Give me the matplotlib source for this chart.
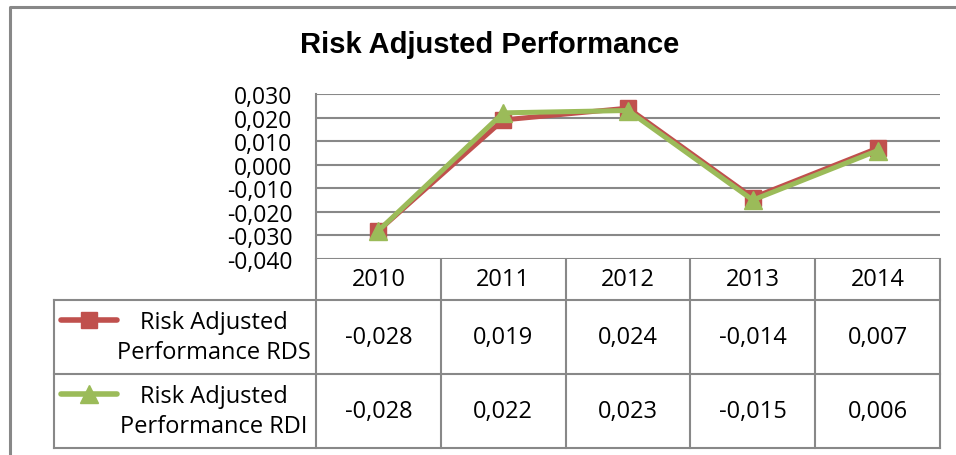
import numpy as np
import matplotlib.pyplot as plt
from matplotlib.ticker import FuncFormatter

years = ['2010', '2011', '2012', '2013', '2014']
rds = [-0.028, 0.019, 0.024, -0.014, 0.007]
rdi = [-0.028, 0.022, 0.023, -0.015, 0.006]
series_names = ['Risk Adjusted\nPerformance RDS', 'Risk Adjusted\nPerformance RDI']
title = 'Risk Adjusted Performance'

RED = '#C0504D'
GREEN = '#9BBB59'
GRID = '#888888'
FONT = 'Open Sans'

def comma(v):
    return f'{v:.3f}'.replace('.', ',')

W, H = 956, 456
fig = plt.figure(figsize=(W / 100, H / 100), dpi=100)

# plot area in pixels
pl, pr, pt, pb = 316, 940, 95, 260
ax = fig.add_axes([pl / W, 1 - pb / H, (pr - pl) / W, (pb - pt) / H])
x = np.arange(len(years))
ax.plot(x, rds, color=RED, lw=3.6, marker='s', ms=12, zorder=3)
ax.plot(x, rdi, color=GREEN, lw=3.6, marker='^', ms=13, zorder=4)
ax.set_xlim(-0.5, len(years) - 0.5)
ax.set_ylim(-0.04, 0.03)
ax.set_yticks(np.round(np.arange(-0.04, 0.0301, 0.01), 3))
ax.yaxis.set_major_formatter(FuncFormatter(lambda v, p: comma(v)))
ax.set_xticks([])
ax.yaxis.grid(True, color=GRID, lw=1.5)
ax.set_axisbelow(True)
for s in ['top', 'right', 'bottom']:
    ax.spines[s].set_visible(False)
ax.spines['left'].set_color(GRID)
ax.spines['left'].set_linewidth(1.5)
ax.tick_params(axis='y', length=0, pad=17, labelsize=16.5)
for lab in ax.get_yticklabels():
    lab.set_fontfamily(FONT)

# overlay for border and data table
ov = fig.add_axes([0, 0, 1, 1], zorder=-1)
ov.set_xlim(0, W)
ov.set_ylim(H, 0)
ov.axis('off')
ov.plot([10, 10, W], [H, 7.5, 7.5], color=GRID, lw=2.2, solid_capstyle='butt')

fig.text(490 / W, 1 - 45 / H, title, ha='center', va='center',
         fontsize=21, fontweight='bold', family='Liberation Sans')

colw = (pr - pl) / len(years)
legl = 54
rows = [260, 301, 375, 449]
lc = dict(color=GRID, lw=1.5)
for yy in rows[1:]:
    ov.plot([legl, pr], [yy, yy], **lc)
ov.plot([legl, legl], [rows[1], rows[3]], **lc)
for k in range(len(years) + 1):
    ov.plot([pl + k * colw, pl + k * colw], [rows[0], rows[3]], **lc)

for i, yr in enumerate(years):
    cx = pl + (i + 0.5) * colw
    ov.text(cx, (rows[0] + rows[1]) / 2, yr, ha='center', va='center',
            fontsize=17, family=FONT)
    for r, vals in enumerate([rds, rdi]):
        ov.text(cx, (rows[r + 1] + rows[r + 2]) / 2, comma(vals[i]),
                ha='center', va='center', fontsize=17, family=FONT)

for r, (name, col, mk, ms) in enumerate(zip(series_names, [RED, GREEN], ['s', '^'], [12, 13])):
    top = rows[r + 1]
    ov.plot([61, 117], [top + 20, top + 20], color=col, lw=4, solid_capstyle='round')
    ov.plot([89], [top + 20], marker=mk, ms=ms, color=col)
    ov.text(214, top + 37, name, ha='center', va='center', fontsize=17,
            family=FONT, linespacing=1.3)

fig.savefig('out.png', dpi=100)
